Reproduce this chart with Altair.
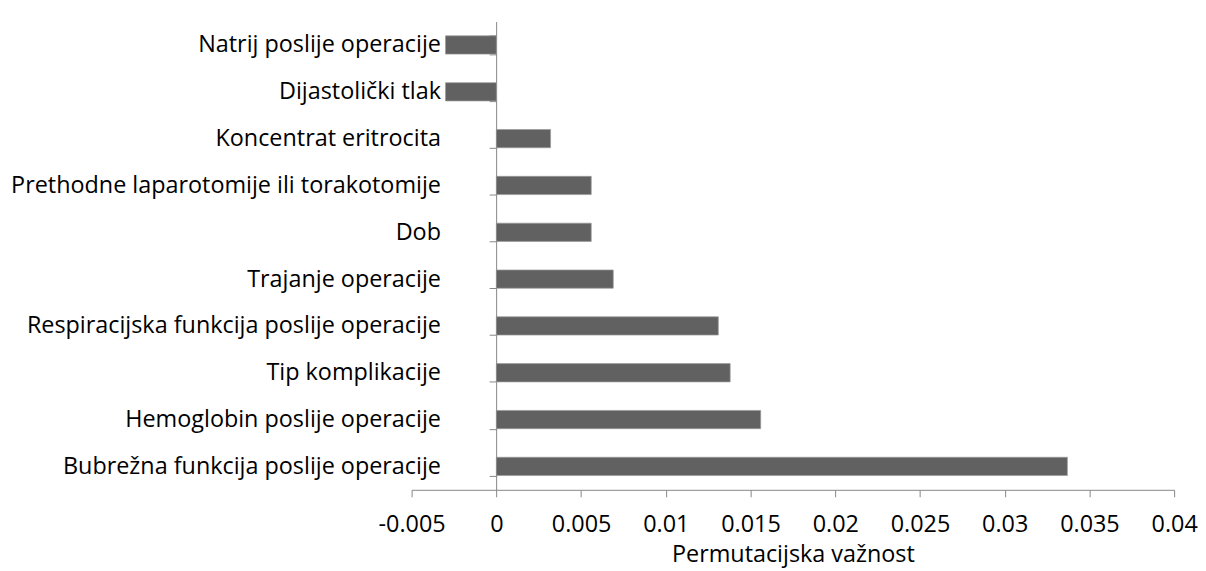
import altair as alt
import pandas as pd

categories = [
    "Natrij poslije operacije",
    "Dijastolički tlak",
    "Koncentrat eritrocita",
    "Prethodne laparotomije ili torakotomije",
    "Dob",
    "Trajanje operacije",
    "Respiracijska funkcija poslije operacije",
    "Tip komplikacije",
    "Hemoglobin poslije operacije",
    "Bubrežna funkcija poslije operacije",
]
values = [-0.0030, -0.0030, 0.0032, 0.0056, 0.0056, 0.0069, 0.0131, 0.0138, 0.0156, 0.0337]
x_ticks = [-0.005, 0, 0.005, 0.01, 0.015, 0.02, 0.025, 0.03, 0.035, 0.04]

df = pd.DataFrame({"cat": categories, "val": values})

FONT = "Open Sans"
FS = 23.5
W = 767
x_offset = -round(W * 0.005 / 0.045)

chart = alt.Chart(df).mark_bar(color="#616161", stroke="#9a9a9a", strokeWidth=0.7).encode(
    x=alt.X(
        "val:Q",
        scale=alt.Scale(domain=[-0.005, 0.04], nice=False, zero=False),
        axis=alt.Axis(
            title="Permutacijska važnost",
            values=x_ticks,
            labelExpr="'' + datum.value",
            labelFlush=False,
            labelOverlap=False,
            grid=False,
            domainColor="#868686",
            tickColor="#868686",
            tickSize=7,
            labelPadding=16,
            labelFontSize=FS,
            labelFont=FONT,
            labelColor="#000000",
            titleFont=FONT,
            titleFontSize=FS,
            titleFontWeight="normal",
            titleColor="#000000",
            titlePadding=7,
        ),
    ),
    y=alt.Y(
        "cat:N",
        sort=categories,
        scale=alt.Scale(paddingInner=0.61, paddingOuter=0.305),
        axis=alt.Axis(
            title=None,
            offset=x_offset,
            grid=False,
            tickBand="extent",
            domainColor="#868686",
            tickColor="#868686",
            tickSize=7,
            labelPadding=49,
            labelFontSize=FS,
            labelFont=FONT,
            labelColor="#000000",
            labelLimit=0,
        ),
    ),
).properties(
    width=W,
    height=471,
    padding={"left": 2, "top": 0, "right": 0, "bottom": 0},
).configure_view(stroke=None)

chart.save("out.html", embed_options={"renderer": "svg", "actions": False})
